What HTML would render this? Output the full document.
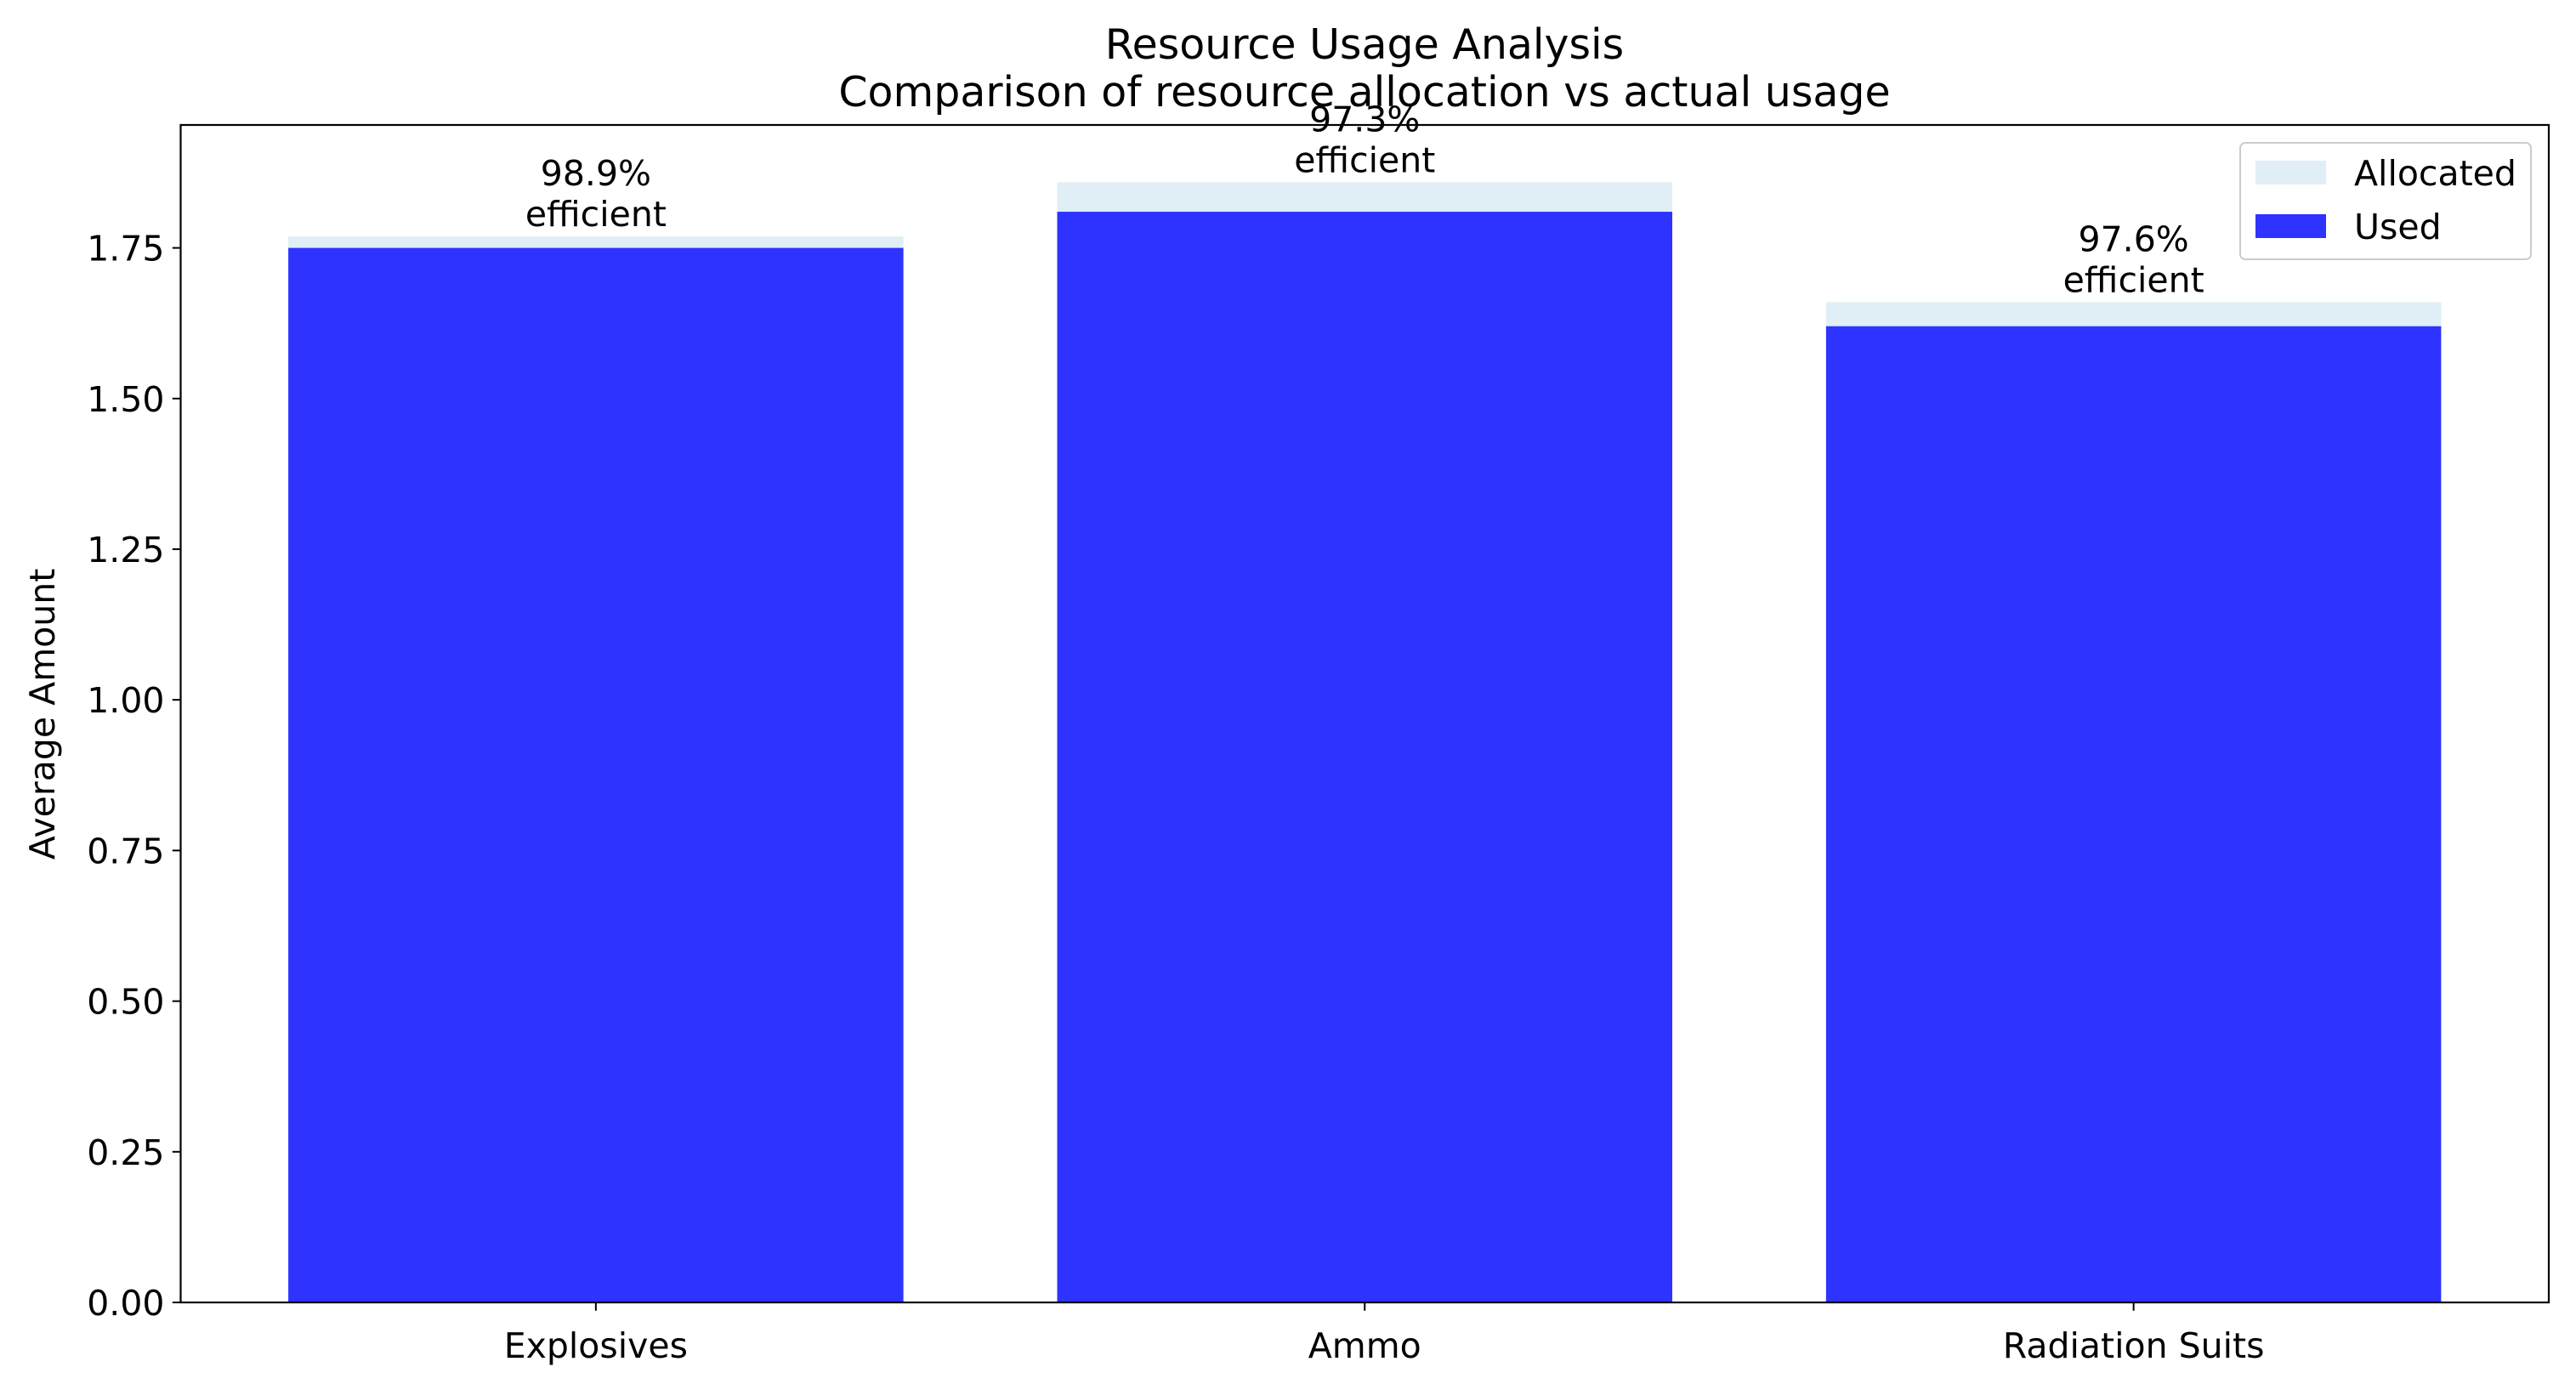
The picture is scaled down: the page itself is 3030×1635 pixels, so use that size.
<!DOCTYPE html>
<html><head><meta charset="utf-8"><style>
html,body{margin:0;padding:0;background:#fff}
svg{display:block;font-family:"DejaVu Sans","Liberation Sans",sans-serif}
</style></head><body>
<svg id="chart" width="3030" height="1635" viewBox="0 0 3030 1635" xmlns="http://www.w3.org/2000/svg">
<rect width="3030" height="1635" fill="#fff"/>
<text x="1605" y="69" font-size="49" text-anchor="middle">Resource Usage Analysis</text>
<text x="1605" y="125" font-size="49" text-anchor="middle">Comparison of resource allocation vs actual usage</text>
<g id="bars"></g>
<g id="yaxis"></g>
<g id="xaxis"></g>
<rect x="212.5" y="147" width="2785.5" height="1385" fill="none" stroke="#000" stroke-width="2.2"/>
<text transform="translate(64,840) rotate(-90)" font-size="41" text-anchor="middle">Average Amount</text>
<g>
<rect x="2635" y="168" width="342" height="137" rx="6" fill="#fff" fill-opacity="0.8" stroke="#cccccc" stroke-width="2"/>
<rect x="2653" y="189" width="83" height="28" fill="#dfeff5"/>
<text x="2769" y="218" font-size="41">Allocated</text>
<rect x="2653" y="252" width="83" height="28" fill="#2e33ff"/>
<text x="2769" y="281" font-size="41">Used</text>
</g>
</svg>
<script>
const categories = ["Explosives", "Ammo", "Radiation Suits"];
const allocated = [1.769, 1.859, 1.660];
const used = [1.750, 1.810, 1.620];
const efficiencyLabels = ["98.9%", "97.3%", "97.6%"];
const yTicks = [0, 0.25, 0.5, 0.75, 1.0, 1.25, 1.5, 1.75];
const yTickLabels = ["0.00", "0.25", "0.50", "0.75", "1.00", "1.25", "1.50", "1.75"];

const NS = "http://www.w3.org/2000/svg";
const L = 212.5, R = 2998, T = 147, B = 1532;
const xMin = -0.54, xMax = categories.length - 1 + 0.54, yMax = 1.954;
const xS = v => L + (v - xMin) / (xMax - xMin) * (R - L);
const yS = v => B - v / yMax * (B - T);
const barW = 0.8;
const FS = 41;
function mk(tag, attrs, parent, text) {
  const e = document.createElementNS(NS, tag);
  for (const k in attrs) e.setAttribute(k, attrs[k]);
  if (text !== undefined) e.textContent = text;
  parent.appendChild(e);
  return e;
}
const bars = document.getElementById('bars');
categories.forEach((c, i) => {
  const x0 = xS(i - barW / 2), x1 = xS(i + barW / 2);
  const a = mk('rect', {x: x0, y: yS(allocated[i]), width: x1 - x0, height: B - yS(allocated[i]), fill: '#dfeff5'}, bars);
  
  
  const u = mk('rect', {x: x0, y: yS(used[i]), width: x1 - x0, height: B - yS(used[i]), fill: '#2e33ff'}, bars);
  
  
  const top = yS(allocated[i]);
  const t1 = mk('text', {x: xS(i), y: top - 60, 'font-size': FS, 'text-anchor': 'middle'}, bars, efficiencyLabels[i]);
  
  
  const t2 = mk('text', {x: xS(i), y: top - 12, 'font-size': FS, 'text-anchor': 'middle'}, bars, 'efficient');
  
  
});
const ya = document.getElementById('yaxis');
yTicks.forEach((v, i) => {
  const y = yS(v);
  const tk = mk('line', {x1: L - 9.7, x2: L, y1: y, y2: y, stroke: '#000', 'stroke-width': 2}, ya);
  
  
  const tl = mk('text', {x: L - 19, y: y + 15, 'font-size': FS, 'text-anchor': 'end'}, ya, yTickLabels[i]);
  
  
});
const xa = document.getElementById('xaxis');
categories.forEach((c, i) => {
  const x = xS(i);
  const tk = mk('line', {x1: x, x2: x, y1: B, y2: B + 9.7, stroke: '#000', 'stroke-width': 2}, xa);
  
  
  const tl = mk('text', {x: x, y: B + 65, 'font-size': FS, 'text-anchor': 'middle'}, xa, c);
  
  
});
</script>
</body></html>
